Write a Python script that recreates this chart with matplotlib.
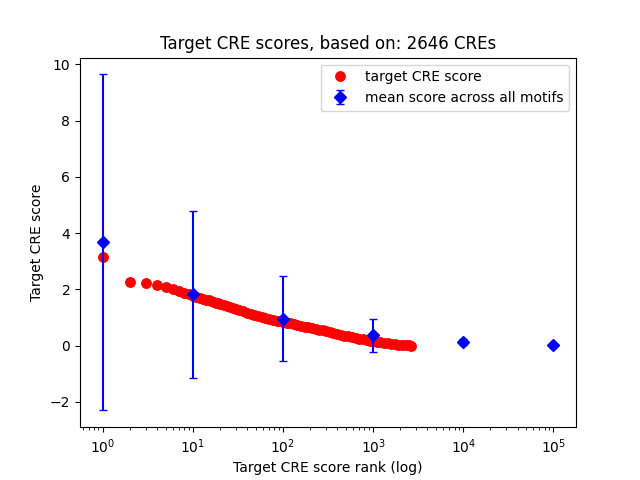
import matplotlib
matplotlib.use('Agg')
import matplotlib.pyplot as plt

# target CRE scores (rank -> score)
cre_rank = [1, 2, 3, 4, 5, 6, 7, 8, 9,
            10, 11, 12, 13, 14, 15, 16, 17, 18, 19, 20, 22, 24, 26, 28, 30,
            33, 36, 40, 44, 48, 53, 58, 64, 70, 77, 85, 93, 100, 110, 120,
            132, 145, 160, 175, 190, 210, 230, 250, 275, 300, 330, 360, 400,
            440, 480, 530, 580, 640, 700, 770, 850, 930, 1000, 1100, 1200,
            1320, 1450, 1600, 1750, 1900, 2100, 2300, 2500, 2646]
cre_score = [3.15, 2.27, 2.24, 2.15, 2.07, 2.01, 1.93, 1.87, 1.82,
             1.78, 1.74, 1.70, 1.67, 1.64, 1.61, 1.58, 1.55, 1.52, 1.50, 1.47,
             1.43, 1.40, 1.36, 1.33, 1.29, 1.26, 1.22, 1.17, 1.13, 1.09, 1.05,
             1.01, 0.98, 0.95, 0.92, 0.89, 0.87, 0.85, 0.82, 0.79, 0.77, 0.74,
             0.71, 0.68, 0.66, 0.63, 0.60, 0.57, 0.54, 0.51, 0.48, 0.45, 0.42,
             0.39, 0.36, 0.33, 0.31, 0.28, 0.25, 0.23, 0.20, 0.18, 0.17, 0.14,
             0.12, 0.10, 0.08, 0.07, 0.05, 0.04, 0.03, 0.02, 0.01, 0.00]

# mean score across all motifs at rank cutoffs
mean_rank = [1, 10, 100, 1000, 10000, 100000]
mean_score = [3.67, 1.82, 0.96, 0.37, 0.12, 0.02]
mean_err = [5.97, 2.97, 1.50, 0.58, 0.10, 0.02]

fig, ax = plt.subplots(figsize=(6.4, 4.8), dpi=100)

ax.plot(cre_rank, cre_score, 'ro', markersize=6.8, label='target CRE score')
ax.errorbar(mean_rank, mean_score, yerr=mean_err, fmt='bD', capsize=3,
            label='mean score across all motifs')

ax.set_xscale('log')
ax.set_title('Target CRE scores, based on: 2646 CREs')
ax.set_xlabel('Target CRE score rank (log)')
ax.set_ylabel('Target CRE score')
ax.legend(loc='upper right')

plt.savefig('out.png', dpi=100)
plt.close(fig)
